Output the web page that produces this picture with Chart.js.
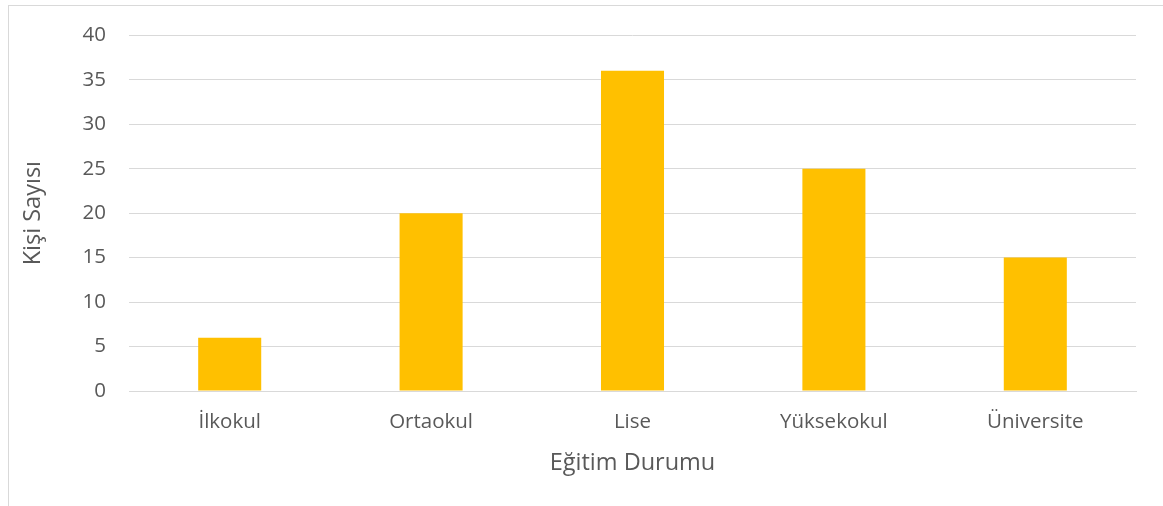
<!DOCTYPE html>
<html>
<head>
<meta charset="utf-8">
<script src="https://cdn.jsdelivr.net/npm/chart.js@4/dist/chart.umd.min.js"></script>
<style>
html,body{margin:0;padding:0;background:#fff;}
#wrap{position:relative;width:1163px;height:506px;overflow:hidden;}
#frame{position:absolute;left:8px;top:5px;width:1200px;height:600px;border:1px solid #d9d9d9;box-sizing:border-box;}
#c{position:absolute;left:0;top:0;}
</style>
</head>
<body>
<div id="wrap">
<div id="frame"></div>
<canvas id="c" width="1163" height="506"></canvas>
</div>
<script>
const categories = ["İlkokul", "Ortaokul", "Lise", "Yüksekokul", "Üniversite"];
const values = [6, 20, 36, 25, 15];
const yTitle = "Kişi Sayısı";
const xTitle = "Eğitim Durumu";

const FONT = "'Open Sans', sans-serif";
const TXT = "#595959";

new Chart(document.getElementById('c'), {
  type: 'bar',
  data: {
    labels: categories,
    datasets: [{
      data: values,
      backgroundColor: '#FFC000',
      borderWidth: 0,
      barPercentage: 0.313,
      categoryPercentage: 1.0
    }]
  },
  options: {
    responsive: false,
    animation: false,
    devicePixelRatio: 1,
    layout: { padding: { left: 0, top: 34, right: 27, bottom: 0 } },
    plugins: { legend: { display: false }, tooltip: { enabled: false } },
    scales: {
      x: {
        grid: { display: false, drawTicks: false },
        border: { display: true, color: '#d9d9d9', width: 1 },
        ticks: { color: TXT, font: { family: FONT, size: 20.5 }, padding: 19, maxRotation: 0 },
        title: { display: true, text: xTitle, color: TXT, font: { family: FONT, size: 23.5 }, padding: { top: 0, bottom: 29 } },
        afterFit: (s) => { s.height = 506 - 391; }
      },
      y: {
        min: 0, max: 40,
        ticks: { stepSize: 5, color: TXT, font: { family: FONT, size: 20.5 }, padding: 23 },
        grid: { color: '#d9d9d9', lineWidth: 1, drawTicks: false },
        border: { display: false },
        title: { display: true, text: yTitle, color: TXT, font: { family: FONT, size: 23.5 }, padding: { top: 19, bottom: 0 } },
        afterFit: (s) => { s.width = 129; }
      }
    }
  }
});
</script>
</body>
</html>
